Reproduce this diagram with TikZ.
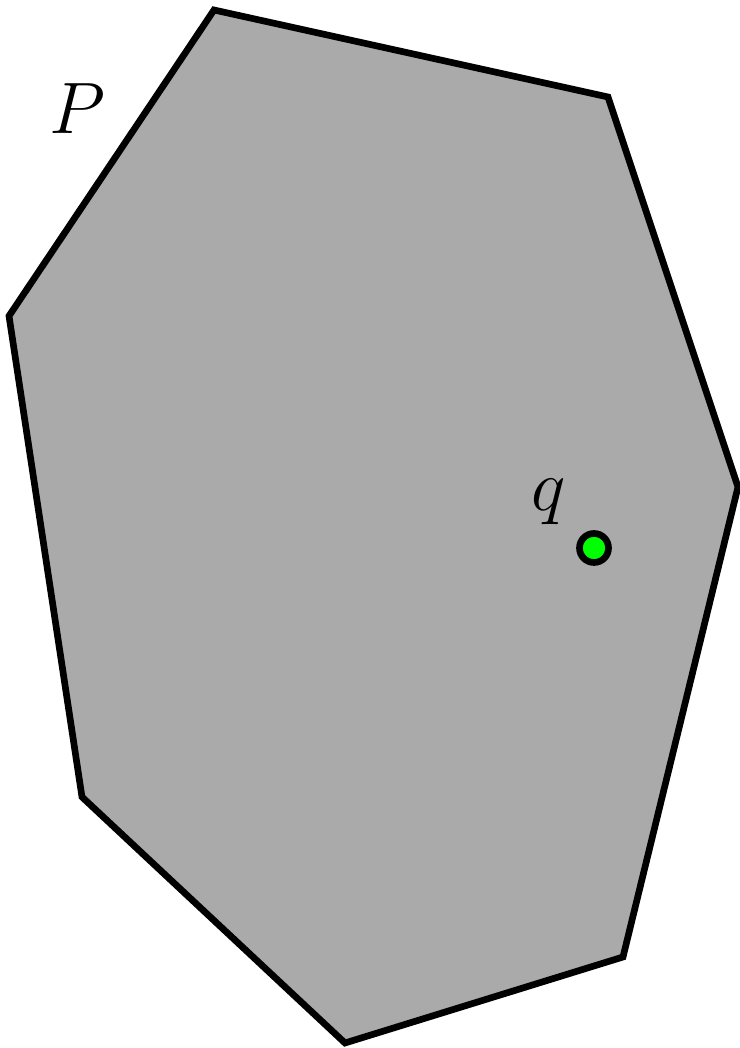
\documentclass[tikz,border=0pt]{standalone}
\usepackage{amsmath,amssymb}
\usepackage{xcolor}
\usetikzlibrary{positioning, calc}

\definecolor{polygray}{RGB}{170,170,170}
\definecolor{ptgreen}{RGB}{0,255,0}

\begin{document}
\begin{tikzpicture}[every node/.style={font=\fontsize{22}{26}\selectfont},
  polyline/.style={line width=1.9pt, line join=miter},
  qpoint/.style={circle, draw, line width=1.9pt, fill=ptgreen, inner sep=0pt, minimum size=0.29cm}]

\useasboundingbox (0,0) rectangle (7.4,10.48);

\coordinate (va) at (2.14,10.38);
\coordinate (vb) at (6.08,9.51);
\coordinate (vc) at (7.38,5.61);
\coordinate (vd) at (6.23,0.91);
\coordinate (ve) at (3.45,0.05);
\coordinate (vf) at (0.82,2.51);
\coordinate (vg) at (0.09,7.32);

% the polygon P
\filldraw[polyline, fill=polygray] (va) -- (vb) -- (vc) -- (vd) -- (ve) -- (vf) -- (vg) -- cycle;

\node (plabel) at (0.77,9.39) {$P$};

% query point q
\node[qpoint] (q) at (5.94,5.00) {};
\node (qlabel) at (5.49,5.46) {$q$};

\end{tikzpicture}
\end{document}
